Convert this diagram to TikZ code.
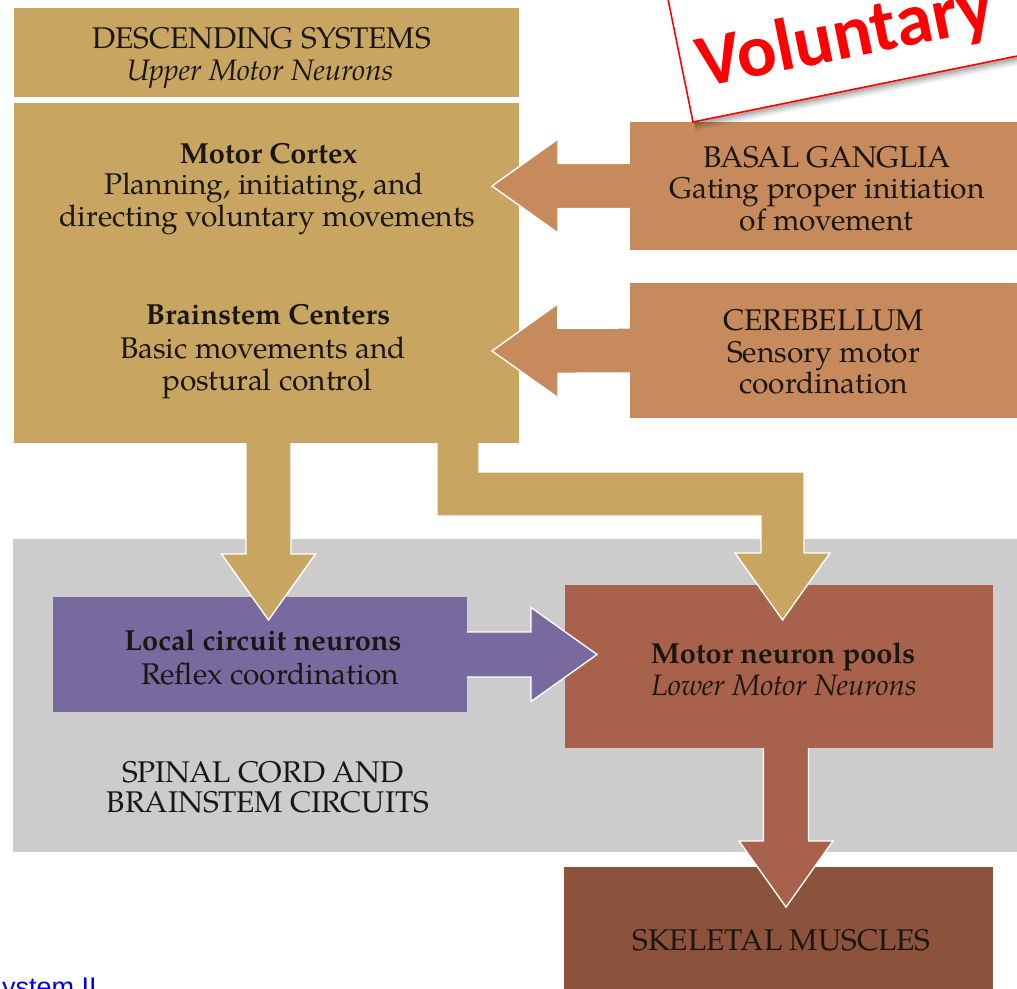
\documentclass[tikz,border=0pt]{standalone}
\usepackage{fontspec}
\setmainfont{texgyrepagella}[Extension=.otf, UprightFont=*-regular, BoldFont=*-bold, ItalicFont=*-italic, BoldItalicFont=*-bolditalic]
\newfontfamily\calib{Carlito}
\newfontfamily\arialf{Liberation Sans}
\usetikzlibrary{calc}
\definecolor{tanc}{HTML}{C8A661}
\definecolor{orc}{HTML}{C68A5C}
\definecolor{purc}{HTML}{786A9F}
\definecolor{motc}{HTML}{A8614A}
\definecolor{skc}{HTML}{8C523B}
\definecolor{grayc}{HTML}{CCCCCC}
\definecolor{txtc}{HTML}{1A1612}
\definecolor{linkc}{HTML}{0000EE}
\tikzset{
  box/.style={rectangle, inner sep=0pt, outer sep=0pt, draw=none},
  lbl/.style={anchor=base, inner sep=0pt, text=txtc, font=\fontsize{29.9}{32}\selectfont},
  lblb/.style={lbl, font=\fontsize{29}{32}\selectfont\bfseries},
  lbli/.style={lbl, font=\fontsize{29.6}{32}\selectfont\itshape},
}
% block arrow: #1 start coordinate, #2 tip coordinate, #3 colour
\newcommand\barrow[3]{%
  \coordinate (ba-A) at ($(#1)!-2pt!(#2)$);
  \coordinate (ba-H) at ($(#2)!66pt!(#1)$);
  \fill[#3] ($(ba-A)!22.5pt!90:(#2)$) -- ($(ba-H)!22.5pt!90:(#2)$) -- ($(ba-H)!47pt!90:(#2)$)
     -- (#2) -- ($(ba-H)!47pt!-90:(#2)$) -- ($(ba-H)!22.5pt!-90:(#2)$) -- ($(ba-A)!22.5pt!-90:(#2)$) -- cycle;
  \draw[white, line width=1.4pt, line join=miter] ($(#1)!22.5pt!90:(#2)$) -- ($(ba-H)!22.5pt!90:(#2)$) -- ($(ba-H)!47pt!90:(#2)$)
     -- (#2) -- ($(ba-H)!47pt!-90:(#2)$) -- ($(ba-H)!22.5pt!-90:(#2)$) -- ($(#1)!22.5pt!-90:(#2)$);
}
\begin{document}
\begin{tikzpicture}[x=1pt, y=-1pt]
\useasboundingbox (0,0) rectangle (1017,988);
\clip (0,0) rectangle (1017,988);
\fill[white] (0,0) rectangle (1017,988);

% spinal cord background
\node[box, fill=grayc, minimum width=1010pt, minimum height=313pt] (spinal) at (518,695.5) {};

% boxes
\node[box, fill=tanc, minimum width=505pt, minimum height=89pt] (desc) at (266.5,52.5) {};
\node[box, fill=tanc, minimum width=505pt, minimum height=340pt] (main) at (266.5,273) {};
\node[box, fill=orc, minimum width=400pt, minimum height=128pt, anchor=west] (basal) at (630,186) {};
\node[box, fill=orc, minimum width=400pt, minimum height=135pt, anchor=west] (cereb) at (630,350.5) {};
\node[box, fill=purc, minimum width=414pt, minimum height=115pt] (local) at (260,654.5) {};
\node[box, fill=motc, minimum width=428pt, minimum height=163pt] (motor) at (779,666.5) {};
\node[box, fill=skc, minimum width=429pt, minimum height=140pt, anchor=north] (skel) at (778.5,867) {};

% arrow tips
\coordinate (tipB) at (492,186);
\coordinate (tipC) at (492,351);
\coordinate (tipL) at (268.5,620);
\coordinate (tipM) at (597,654.5);
\coordinate (tipS) at (786,907);
\coordinate (tipR) at (782.5,620);

\barrow{basal.west}{tipB}{orc}
\barrow{cereb.west}{tipC}{orc}
\barrow{tipL |- main.south}{tipL}{tanc}
\barrow{local.east}{tipM}{purc}
\barrow{tipS |- motor.south}{tipS}{motc}

% L-shaped arrow from main box to motor neuron pools
\fill[tanc] (437,441) -- (437,516) -- (761,516) -- (761,553) -- (735,553) -- (tipR)
   -- (830,553) -- (804,553) -- (804,472) -- (479,472) -- (479,441) -- cycle;
\draw[white, line width=1.4pt, line join=miter] (437,443) -- (437,516) -- (761,516) -- (761,553) -- (735,553) -- (tipR)
   -- (830,553) -- (804,553) -- (804,472) -- (479,472) -- (479,443);

% labels
\node[lbl] (t1) at (261.5,48) {DESCENDING SYSTEMS};
\node[lbli] (t2) at (260,80) {Upper Motor Neurons};
\node[lblb] (t3) at (268.5,163) {Motor Cortex};
\node[lbl] (t4) at (264,194) {Planning, initiating, and};
\node[lbl] (t5) at (267.5,226) {directing voluntary movements};
\node[lblb] (t6) at (268,324) {Brainstem Centers};
\node[lbl] (t7) at (263,358) {Basic movements and};
\node[lbl] (t8) at (267.5,390) {postural control};
\node[lbl] (t9) at (827,167) {BASAL GANGLIA};
\node[lbl] (t10) at (827,198) {Gating proper initiation};
\node[lbl] (t11) at (826.5,230) {of movement};
\node[lbl] (t12) at (823.5,330) {CEREBELLUM};
\node[lbl] (t13) at (823.5,362) {Sensory motor};
\node[lbl] (t14) at (823.5,393) {coordination};
\node[lblb] (t15) at (263,650) {Local circuit neurons};
\node[lbl] (t16) at (270,684) {Reflex coordination};
\node[lblb] (t17) at (783,663) {Motor neuron pools};
\node[lbli] (t18) at (784,695) {Lower Motor Neurons};
\node[lbl] (t19) at (263,782) {SPINAL CORD AND};
\node[lbl] (t20) at (268,812) {BRAINSTEM CIRCUITS};
\node[lbl] (t21) at (781.5,950) {SKELETAL MUSCLES};

% Voluntary tag
\foreach \s/\o in {9/0.05,7/0.07,5/0.09,3/0.12}{
  \fill[black, opacity=\o, rotate around={11.5:(695,122+\s)}] (695,122+\s) rectangle (1115,-78+\s);
}
\filldraw[fill=white, draw=red, line width=1.6pt, rotate around={11.5:(693,122)}] (693,122) rectangle (1113,-78);
\node[anchor=base west, rotate=11.5, inner sep=0pt, text=red, font=\calib\bfseries\fontsize{74}{80}\selectfont] (vol) at (702,88) {Voluntary};

% cut-off link text
\node[anchor=base west, inner sep=0pt, text=linkc, font=\arialf\fontsize{27}{30}\selectfont] (link) at (2,996) {ystem II};
\end{tikzpicture}
\end{document}
